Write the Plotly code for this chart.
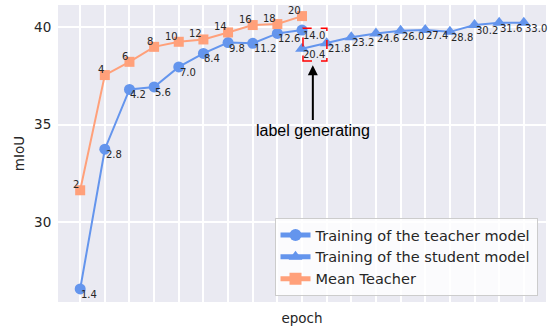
import plotly.graph_objects as go

# Epoch labels shown next to each point
mt_labels = ["2", "4", "6", "8", "10", "12", "14", "16", "18", "20"]
teacher_labels = ["1.4", "2.8", "4.2", "5.6", "7.0", "8.4", "9.8", "11.2", "12.6", "14.0"]
student_labels = ["20.4", "21.8", "23.2", "24.6", "26.0", "27.4", "28.8", "30.2", "31.6", "33.0"]

# mIoU values
mt_miou = [31.63, 37.55, 38.23, 39.00, 39.26, 39.38, 39.74, 40.12, 40.17, 40.58]
teacher_miou = [26.56, 33.74, 36.81, 36.94, 37.97, 38.66, 39.22, 39.18, 39.69, 39.86]
student_miou = [38.90, 39.18, 39.49, 39.69, 39.83, 39.86, 39.77, 40.12, 40.24, 40.24]

# point positions along the x axis
mt_x = list(range(len(mt_miou)))
teacher_x = list(range(len(teacher_miou)))
student_x = list(range(len(teacher_miou) - 1, len(teacher_miou) - 1 + len(student_miou)))

BLUE = "#6495ED"
ORANGE = "#FFA07A"
LABEL_FONT = dict(family="DejaVu Sans", size=10, color="#262626")

fig = go.Figure()
fig.add_trace(go.Scatter(
    x=teacher_x, y=teacher_miou, mode="lines+markers",
    name="Training of the teacher model",
    line=dict(color=BLUE, width=2),
    marker=dict(symbol="circle", size=11, color=BLUE),
))
fig.add_trace(go.Scatter(
    x=student_x, y=student_miou, mode="lines+markers",
    name="Training of the student model",
    line=dict(color=BLUE, width=2),
    marker=dict(symbol="triangle-up", size=12, color=BLUE),
))
fig.add_trace(go.Scatter(
    x=mt_x, y=mt_miou, mode="lines+markers",
    name="Mean Teacher",
    line=dict(color=ORANGE, width=2),
    marker=dict(symbol="square", size=10, color=ORANGE),
))

annotations = []
for xv, yv, t in zip(teacher_x, teacher_miou, teacher_labels):
    annotations.append(dict(x=xv, y=yv, text=t, showarrow=False, xanchor="left",
                            yanchor="top", xshift=-1, yshift=2, font=LABEL_FONT))
for xv, yv, t in zip(student_x, student_miou, student_labels):
    annotations.append(dict(x=xv, y=yv, text=t, showarrow=False, xanchor="left",
                            yanchor="top", xshift=-1, yshift=2, font=LABEL_FONT))
for xv, yv, t in zip(mt_x, mt_miou, mt_labels):
    annotations.append(dict(x=xv, y=yv, text=t, showarrow=False, xanchor="right",
                            yanchor="bottom", xshift=1, yshift=-2, font=LABEL_FONT))

# arrow pointing at the switch to label generation
annotations.append(dict(x=9.44, y=38.06, ax=9.44, ay=35.17, axref="x", ayref="y",
                        xref="x", yref="y", text="", showarrow=True,
                        arrowhead=2, arrowsize=1, arrowwidth=2, arrowcolor="black"))
annotations.append(dict(x=9.44, y=34.71, text="label generating", showarrow=False,
                        xanchor="center", yanchor="middle",
                        font=dict(family="Liberation Sans", size=16, color="black")))

fig.add_shape(type="rect", x0=9.04, x1=10.01, y0=38.27, y1=39.96,
              line=dict(color="red", width=1.5, dash="dash"))

fig.update_layout(
    width=552, height=332,
    margin=dict(l=58, r=6, t=5, b=30),
    paper_bgcolor="white",
    plot_bgcolor="#EAEAF2",
    font=dict(family="DejaVu Sans", size=13, color="#262626"),
    annotations=annotations,
    showlegend=True,
    legend=dict(x=0.9826, y=0.02, xanchor="right", yanchor="bottom",
                bgcolor="rgba(255,255,255,0.8)", bordercolor="#CCCCCC", borderwidth=1,
                font=dict(family="DejaVu Sans", size=14.5, color="#262626"),
                tracegroupgap=0, itemsizing="constant"),
)
fig.update_xaxes(
    range=[-0.9, 18.9], showticklabels=False, dtick=1, tick0=0,
    showgrid=True, gridcolor="white", gridwidth=1.5, zeroline=False,
    title=dict(text="epoch", standoff=11, font=dict(size=13.5)),
)
fig.update_yaxes(
    range=[25.89, 41.15], tickvals=[30, 35, 40],
    showgrid=True, gridcolor="white", gridwidth=1.5, zeroline=False,
    ticks="outside", ticklen=3, tickcolor="rgba(0,0,0,0)",
    tickfont=dict(size=13.5),
    title=dict(text="mIoU", standoff=6, font=dict(size=13.5)),
)

fig.write_html("out.html")
